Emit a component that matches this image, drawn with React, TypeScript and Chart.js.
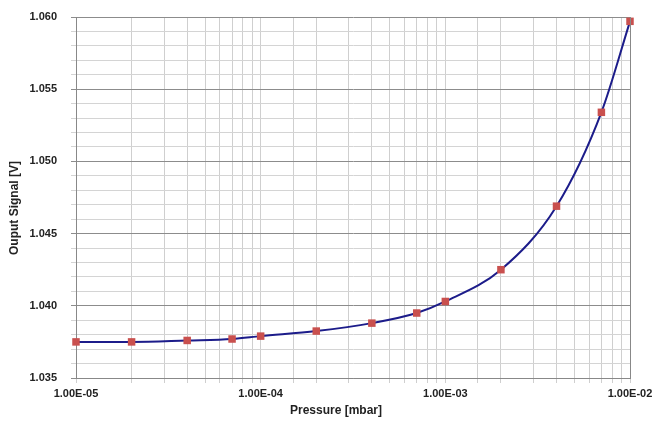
import React, { useEffect, useRef } from "react";
import { Chart, registerables } from "chart.js";

Chart.register(...registerables);

const pressures = [1e-5, 2e-5, 4e-5, 7e-5, 1e-4, 2e-4, 4e-4, 7e-4, 1e-3, 2e-3, 4e-3, 7e-3, 1e-2];
const signals = [1.0375, 1.0375, 1.0376, 1.0377, 1.0379, 1.03825, 1.0388, 1.0395, 1.0403, 1.0425, 1.0469, 1.0534, 1.0597];
const yMin = 1.035;
const yMax = 1.06;
const yTitle = "Ouput Signal [V]";
const xTitle = "Pressure [mbar]";

function fmtExp(v: number): string {
  const e = Math.round(Math.log10(v));
  const sign = e < 0 ? "-" : "+";
  const a = Math.abs(e);
  return "1.00E" + sign + (a < 10 ? "0" + a : "" + a);
}

function isDecade(v: number): boolean {
  const l = Math.log10(v);
  return Math.abs(l - Math.round(l)) < 1e-6;
}

export default function App() {
  const ref = useRef<HTMLCanvasElement | null>(null);
  useEffect(() => {
    document.body.style.margin = "0";
    const family = "'Liberation Sans', Arial, sans-serif";
    const tickFont = { family, size: 11, weight: "bold" as const };
    const chart = new Chart(ref.current!, {
      type: "line",
      data: {
        datasets: [
          {
            data: pressures.map((p, i) => ({ x: p, y: signals[i] })),
            borderColor: "#1c1c8a",
            borderWidth: 2,
            pointStyle: "rect",
            pointRadius: 5.3,
            pointBackgroundColor: "#c9504e",
            pointBorderColor: "#c9504e",
            pointBorderWidth: 0,
            cubicInterpolationMode: "monotone",
            fill: false,
            clip: false,
          },
        ],
      },
      options: {
        animation: false,
        responsive: false,
        devicePixelRatio: 1,
        layout: { autoPadding: false, padding: { top: 17, right: 30, left: 0, bottom: 0 } },
        plugins: { legend: { display: false }, tooltip: { enabled: false } },
        scales: {
          x: {
            type: "logarithmic",
            min: 1e-5,
            max: 1e-2,
            border: { color: "#888", width: 1 },
            grid: {
              color: "#cfcfcf",
              lineWidth: 1,
              tickLength: 5,
            },
            ticks: {
              autoSkip: false,
              maxRotation: 0,
              color: "#222",
              font: tickFont,
              padding: 4,
              callback: (v: any) => (isDecade(Number(v)) ? fmtExp(Number(v)) : ""),
            },
            title: { display: false, text: xTitle },
            afterFit: (s: any) => {
              s.height = 49;
            },
          },
          y: {
            min: yMin,
            max: yMax,
            border: { color: "#888", width: 1 },
            grid: {
              color: (ctx: any) => {
                const v = Math.round(ctx.tick.value * 1000);
                return v % 5 === 0 ? "#8c8c8c" : "#d4d4d4";
              },
              lineWidth: 1,
              tickLength: 5,
            },
            ticks: {
              stepSize: 0.001,
              autoSkip: false,
              color: "#222",
              font: tickFont,
              padding: 14,
              callback: (v: any) => {
                const n = Math.round(Number(v) * 1000);
                return n % 5 === 0 ? (n / 1000).toFixed(3) : "";
              },
            },
            title: { display: false, text: yTitle },
            afterFit: (s: any) => {
              s.width = 76;
              s.paddingTop = 0;
              s.paddingBottom = 0;
            },
          },
        },
      },
      plugins: [
        {
          id: "frameAndTitles",
          afterDraw: (c: any) => {
            const a = c.chartArea;
            const g = c.ctx;
            g.save();
            g.strokeStyle = "#888";
            g.lineWidth = 1;
            g.beginPath();
            g.moveTo(Math.round(a.right) + 0.5, a.top);
            g.lineTo(Math.round(a.right) + 0.5, a.bottom);
            g.stroke();
            g.fillStyle = "#222";
            g.font = "bold 12px " + family;
            g.textAlign = "center";
            g.textBaseline = "middle";
            g.fillText(xTitle, 336, 411);
            g.translate(15, 208);
            g.rotate(-Math.PI / 2);
            g.fillText(yTitle, 0, 0);
            g.restore();
          },
        },
      ],
    } as any);
    return () => chart.destroy();
  }, []);
  return (
    <div style={{ position: "fixed", left: 0, top: 0, width: 660, height: 427, background: "#fff" }}>
      <canvas ref={ref} width={660} height={427} style={{ width: 660, height: 427 }} />
    </div>
  );
}
